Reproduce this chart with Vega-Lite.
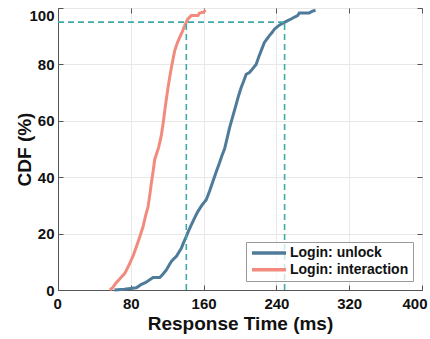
{
  "$schema": "https://vega.github.io/schema/vega-lite/v6.json",
  "width": 364,
  "height": 282,
  "autosize": "none",
  "padding": {"left": 58, "top": 8, "right": 8, "bottom": 49},
  "background": "white",
  "config": {
    "font": "Liberation Sans",
    "view": {"stroke": "#555555", "strokeWidth": 1},
    "axis": {
      "labelFont": "Liberation Sans", "labelFontWeight": "bold", "labelFontSize": 15, "labelColor": "#111111",
      "titleFont": "Liberation Sans", "titleFontWeight": "bold", "titleFontSize": 19, "titleColor": "#111111",
      "domainColor": "#555555", "tickColor": "#555555", "gridColor": "#e8e8e8", "gridWidth": 1
    }
  },
  "datasets": {
    "cdf": [
      {"series": "Login: unlock", "t": 62, "p": 0},
      {"series": "Login: unlock", "t": 73, "p": 0.3},
      {"series": "Login: unlock", "t": 86, "p": 0.8},
      {"series": "Login: unlock", "t": 88, "p": 1.2},
      {"series": "Login: unlock", "t": 91.7, "p": 2},
      {"series": "Login: unlock", "t": 96, "p": 2.6},
      {"series": "Login: unlock", "t": 100.8, "p": 3.6},
      {"series": "Login: unlock", "t": 104.5, "p": 4.4},
      {"series": "Login: unlock", "t": 111.8, "p": 4.4},
      {"series": "Login: unlock", "t": 115, "p": 5.5},
      {"series": "Login: unlock", "t": 119.1, "p": 7.1},
      {"series": "Login: unlock", "t": 122, "p": 8.8},
      {"series": "Login: unlock", "t": 124.6, "p": 10.1},
      {"series": "Login: unlock", "t": 127, "p": 11},
      {"series": "Login: unlock", "t": 130, "p": 11.9},
      {"series": "Login: unlock", "t": 133, "p": 13.5},
      {"series": "Login: unlock", "t": 135.5, "p": 14.8},
      {"series": "Login: unlock", "t": 138, "p": 16.8},
      {"series": "Login: unlock", "t": 141, "p": 19},
      {"series": "Login: unlock", "t": 143.5, "p": 21},
      {"series": "Login: unlock", "t": 146.5, "p": 23.1},
      {"series": "Login: unlock", "t": 150, "p": 25.5},
      {"series": "Login: unlock", "t": 153.8, "p": 27.9},
      {"series": "Login: unlock", "t": 158, "p": 30},
      {"series": "Login: unlock", "t": 162.9, "p": 32},
      {"series": "Login: unlock", "t": 166.5, "p": 35},
      {"series": "Login: unlock", "t": 170.2, "p": 38.5},
      {"series": "Login: unlock", "t": 174, "p": 42},
      {"series": "Login: unlock", "t": 177.5, "p": 45.1},
      {"series": "Login: unlock", "t": 180, "p": 47.5},
      {"series": "Login: unlock", "t": 183, "p": 50},
      {"series": "Login: unlock", "t": 186, "p": 54},
      {"series": "Login: unlock", "t": 188.5, "p": 57.5},
      {"series": "Login: unlock", "t": 192, "p": 61.5},
      {"series": "Login: unlock", "t": 195.8, "p": 65.8},
      {"series": "Login: unlock", "t": 198.5, "p": 69},
      {"series": "Login: unlock", "t": 201.3, "p": 71.8},
      {"series": "Login: unlock", "t": 204, "p": 74},
      {"series": "Login: unlock", "t": 206.8, "p": 76.5},
      {"series": "Login: unlock", "t": 210.4, "p": 77.1},
      {"series": "Login: unlock", "t": 214, "p": 78.5},
      {"series": "Login: unlock", "t": 217.7, "p": 80},
      {"series": "Login: unlock", "t": 220.5, "p": 82.5},
      {"series": "Login: unlock", "t": 223.2, "p": 84.8},
      {"series": "Login: unlock", "t": 226.8, "p": 87.8},
      {"series": "Login: unlock", "t": 229.5, "p": 89},
      {"series": "Login: unlock", "t": 232.3, "p": 90.2},
      {"series": "Login: unlock", "t": 235, "p": 91.2},
      {"series": "Login: unlock", "t": 237.8, "p": 92.5},
      {"series": "Login: unlock", "t": 241.5, "p": 93.5},
      {"series": "Login: unlock", "t": 245.1, "p": 94.3},
      {"series": "Login: unlock", "t": 248.8, "p": 94.9},
      {"series": "Login: unlock", "t": 252.5, "p": 95.5},
      {"series": "Login: unlock", "t": 256.1, "p": 96.1},
      {"series": "Login: unlock", "t": 260, "p": 96.8},
      {"series": "Login: unlock", "t": 263.3, "p": 97.3},
      {"series": "Login: unlock", "t": 265.2, "p": 98.2},
      {"series": "Login: unlock", "t": 276, "p": 98.2},
      {"series": "Login: unlock", "t": 279, "p": 98.8},
      {"series": "Login: unlock", "t": 283, "p": 99.2},
      {"series": "Login: interaction", "t": 57, "p": 0},
      {"series": "Login: interaction", "t": 60, "p": 0.8},
      {"series": "Login: interaction", "t": 63.5, "p": 2.4},
      {"series": "Login: interaction", "t": 68, "p": 4},
      {"series": "Login: interaction", "t": 73.4, "p": 5.9},
      {"series": "Login: interaction", "t": 79, "p": 9.5},
      {"series": "Login: interaction", "t": 83, "p": 12.5},
      {"series": "Login: interaction", "t": 86.2, "p": 15.4},
      {"series": "Login: interaction", "t": 90, "p": 19},
      {"series": "Login: interaction", "t": 93.5, "p": 22.5},
      {"series": "Login: interaction", "t": 96, "p": 26},
      {"series": "Login: interaction", "t": 99, "p": 29.6},
      {"series": "Login: interaction", "t": 101, "p": 34},
      {"series": "Login: interaction", "t": 102.6, "p": 38},
      {"series": "Login: interaction", "t": 104.5, "p": 42},
      {"series": "Login: interaction", "t": 106.3, "p": 46.3},
      {"series": "Login: interaction", "t": 108.5, "p": 48.5},
      {"series": "Login: interaction", "t": 110.5, "p": 50.5},
      {"series": "Login: interaction", "t": 112, "p": 52.5},
      {"series": "Login: interaction", "t": 113.6, "p": 55},
      {"series": "Login: interaction", "t": 115.5, "p": 59},
      {"series": "Login: interaction", "t": 117.3, "p": 63.5},
      {"series": "Login: interaction", "t": 119, "p": 67.5},
      {"series": "Login: interaction", "t": 120.9, "p": 71.8},
      {"series": "Login: interaction", "t": 122.8, "p": 75.5},
      {"series": "Login: interaction", "t": 124.6, "p": 78.9},
      {"series": "Login: interaction", "t": 126.5, "p": 82},
      {"series": "Login: interaction", "t": 128.2, "p": 84.8},
      {"series": "Login: interaction", "t": 131, "p": 87.5},
      {"series": "Login: interaction", "t": 133.7, "p": 89.6},
      {"series": "Login: interaction", "t": 136.5, "p": 91.5},
      {"series": "Login: interaction", "t": 139.2, "p": 93.7},
      {"series": "Login: interaction", "t": 141, "p": 95},
      {"series": "Login: interaction", "t": 142.8, "p": 96.1},
      {"series": "Login: interaction", "t": 146.5, "p": 97.3},
      {"series": "Login: interaction", "t": 153.8, "p": 97.3},
      {"series": "Login: interaction", "t": 155.5, "p": 98.2},
      {"series": "Login: interaction", "t": 160, "p": 98.5},
      {"series": "Login: interaction", "t": 162, "p": 99.3}
    ],
    "guides": [
      {"x": 0, "x2": 249, "y": 95, "y2": 95},
      {"x": 141, "x2": 141, "y": 0, "y2": 95},
      {"x": 249, "x2": 249, "y": 0, "y2": 95}
    ]
  },
  "layer": [
    {
      "data": {"name": "cdf"},
      "mark": {"type": "line", "strokeWidth": 3},
      "encoding": {
        "x": {
          "field": "t", "type": "quantitative",
          "scale": {"domain": [0, 400], "nice": false, "zero": false},
          "axis": {
            "orient": "bottom", "values": [0, 80, 160, 240, 320, 400], "title": "Response Time (ms)",
            "tickSize": -5, "labelPadding": 11, "labelFlush": true, "labelFlushOffset": 5, "titlePadding": 3,
            "grid": true
          }
        },
        "y": {
          "field": "p", "type": "quantitative",
          "scale": {"domain": [0, 100], "nice": false, "zero": false},
          "axis": {
            "orient": "left", "values": [0, 20, 40, 60, 80, 100], "title": "CDF (%)",
            "tickSize": -5, "labelPadding": 9, "titlePadding": -6, "grid": true,
            "labelBaseline": {"condition": {"test": "datum.value == 100", "value": "top"}, "value": "middle"}
          }
        },
        "color": {
          "field": "series", "type": "nominal",
          "scale": {"domain": ["Login: unlock", "Login: interaction"], "range": ["#4f7b9a", "#f28b7e"]},
          "legend": {
            "title": null, "orient": "bottom-right", "offset": 9,
            "symbolType": "stroke", "symbolSize": 1156, "symbolStrokeWidth": 3.5,
            "labelFont": "Liberation Sans", "labelFontWeight": "bold", "labelFontSize": 14, "labelColor": "#111111",
            "labelOffset": 2, "padding": 4, "rowPadding": 2.7, "clipHeight": 14,
            "fillColor": "rgba(255,255,255,0.75)", "strokeColor": "#9a9a9a", "cornerRadius": 0
          }
        },
        "order": {"field": "t", "type": "quantitative"}
      }
    },
    {
      "data": {"name": "guides"},
      "mark": {"type": "rule", "color": "#3fa9a9", "strokeWidth": 1.6, "strokeDash": [6, 4]},
      "encoding": {
        "x": {
          "field": "x", "type": "quantitative",
          "scale": {"domain": [0, 400], "nice": false, "zero": false},
          "axis": {"orient": "top", "values": [0, 80, 160, 240, 320, 400], "labels": false, "title": null, "domain": false, "grid": false, "tickSize": -5}
        },
        "x2": {"field": "x2"},
        "y": {
          "field": "y", "type": "quantitative",
          "scale": {"domain": [0, 100], "nice": false, "zero": false},
          "axis": {"orient": "right", "values": [0, 20, 40, 60, 80, 100], "labels": false, "title": null, "domain": false, "grid": false, "tickSize": -5}
        },
        "y2": {"field": "y2"}
      }
    }
  ],
  "resolve": {"axis": {"x": "independent", "y": "independent"}}
}
